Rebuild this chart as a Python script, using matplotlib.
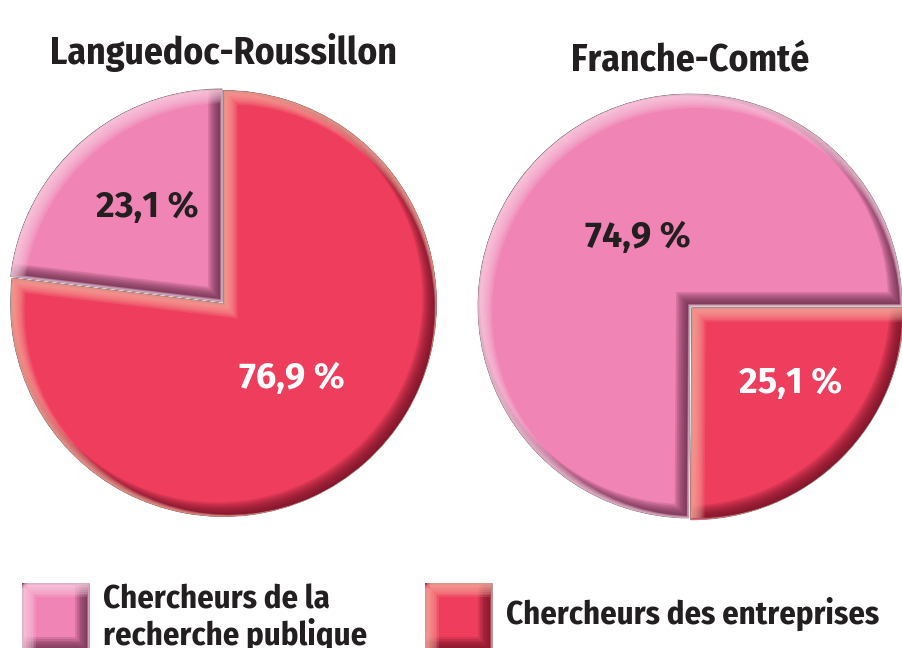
import matplotlib
matplotlib.use("Agg")
import matplotlib.pyplot as plt
from matplotlib.patches import Wedge, Rectangle
from matplotlib.transforms import offset_copy

# data
regions = ["Languedoc-Roussillon", "Franche-Comté"]
public_share = [23.1, 74.9]
company_share = [76.9, 25.1]
value_labels = [["23,1 %", "76,9 %"], ["74,9 %", "25,1 %"]]
legend_labels = ["Chercheurs de la\nrecherche publique", "Chercheurs des entreprises"]

PINK = "#f084b4"
RED = "#ee3d5d"
PINK_DARK = "#5a2440"
RED_DARK = "#6a1020"
PINK_LIGHT = "#fbd0e3"
RED_LIGHT = "#f8b0a0"
INK = "#231f20"

COND = ["Fira Sans Condensed", "Roboto Condensed", "DejaVu Sans"]
NUMF = ["Fira Sans", "Open Sans", "DejaVu Sans"]

W, H = 902, 648
fig = plt.figure(figsize=(W / 100, H / 100), dpi=100)


def shifted(patch, ax, dx, dy):
    tr = offset_copy(ax.transData, fig=fig, x=dx, y=dy, units="dots")
    if isinstance(patch, Wedge):
        return Wedge(patch.center, patch.r, patch.theta1, patch.theta2, transform=tr)
    return Rectangle(patch.get_xy(), patch.get_width(), patch.get_height(), transform=tr)


def bevel(ax, patch, dark, light, size=12, n=8):
    # soft dark band on lower-right edges, light band on upper-left edges
    for col, sign, alpha in [(dark, 1, 0.17), (light, -1, 0.18)]:
        for i in range(n):
            k = 1 - i / n
            lw = size * k
            d = lw / 2 * 0.75
            p = shifted(patch, ax, -sign * d, sign * d)
            p.set_facecolor("none")
            p.set_edgecolor(col)
            p.set_alpha(alpha)
            p.set_linewidth(lw * 0.72)
            ax.add_patch(p)
            p.set_clip_path(patch)


pies = [
    dict(cx=223.5, cy=303.5, r=213, vals=[public_share[0], company_share[0]],
         start=90, explode=[0.01, 0], pos=[(-0.36, 0.45), (0.32, -0.35)],
         tcol=[INK, "white"]),
    dict(cx=690, cy=306, r=212, vals=[public_share[1], company_share[1]],
         start=0, explode=[0, 0.012], pos=[(-0.245, 0.325), (0.476, -0.363)],
         tcol=[INK, "white"]),
]

for i, p in enumerate(pies):
    ax = fig.add_axes([(p["cx"] - p["r"]) / W, (H - p["cy"] - p["r"]) / H,
                       2 * p["r"] / W, 2 * p["r"] / H])
    wedges, _ = ax.pie(p["vals"], colors=[PINK, RED], startangle=p["start"],
                       counterclock=True, explode=p["explode"], radius=1,
                       wedgeprops=dict(edgecolor="#8a8a8a", linewidth=0.6))
    ax.set_xlim(-1, 1)
    ax.set_ylim(-1, 1)
    ax.axis("off")
    for w, dk, lt in zip(wedges, [PINK_DARK, RED_DARK], [PINK_LIGHT, RED_LIGHT]):
        w.set_clip_on(False)
        bevel(ax, w, dk, lt, size=16)
    for (x, y), txt, c in zip(p["pos"], value_labels[i], p["tcol"]):
        ax.text(x, y, txt, ha="center", va="center", color=c, fontsize=26,
                fontweight="bold", family=NUMF)
    ax.text(0, 1.175 if i == 0 else 1.16, regions[i], ha="center", va="center",
            fontsize=27, fontweight="bold", color=INK, family=COND)

# legend, pixel coordinates
lax = fig.add_axes([0, 0, 1, 1])
lax.set_xlim(0, W)
lax.set_ylim(H, 0)
lax.axis("off")
for x0, col, dk, lt, lab, ty in [(22, PINK, PINK_DARK, PINK_LIGHT, legend_labels[0], 618),
                                 (425, RED, RED_DARK, RED_LIGHT, legend_labels[1], 614)]:
    sq = Rectangle((x0, 583), 67, 68, facecolor=col, edgecolor="#9a9a9a", linewidth=0.5)
    lax.add_patch(sq)
    bevel(lax, sq, dk, lt, size=16)
    lax.text(x0 + 81, ty, lab, ha="left", va="center", fontsize=23.5,
             fontweight="bold", color=INK, linespacing=1.05, family=COND)

fig.savefig("out.png", dpi=100)
